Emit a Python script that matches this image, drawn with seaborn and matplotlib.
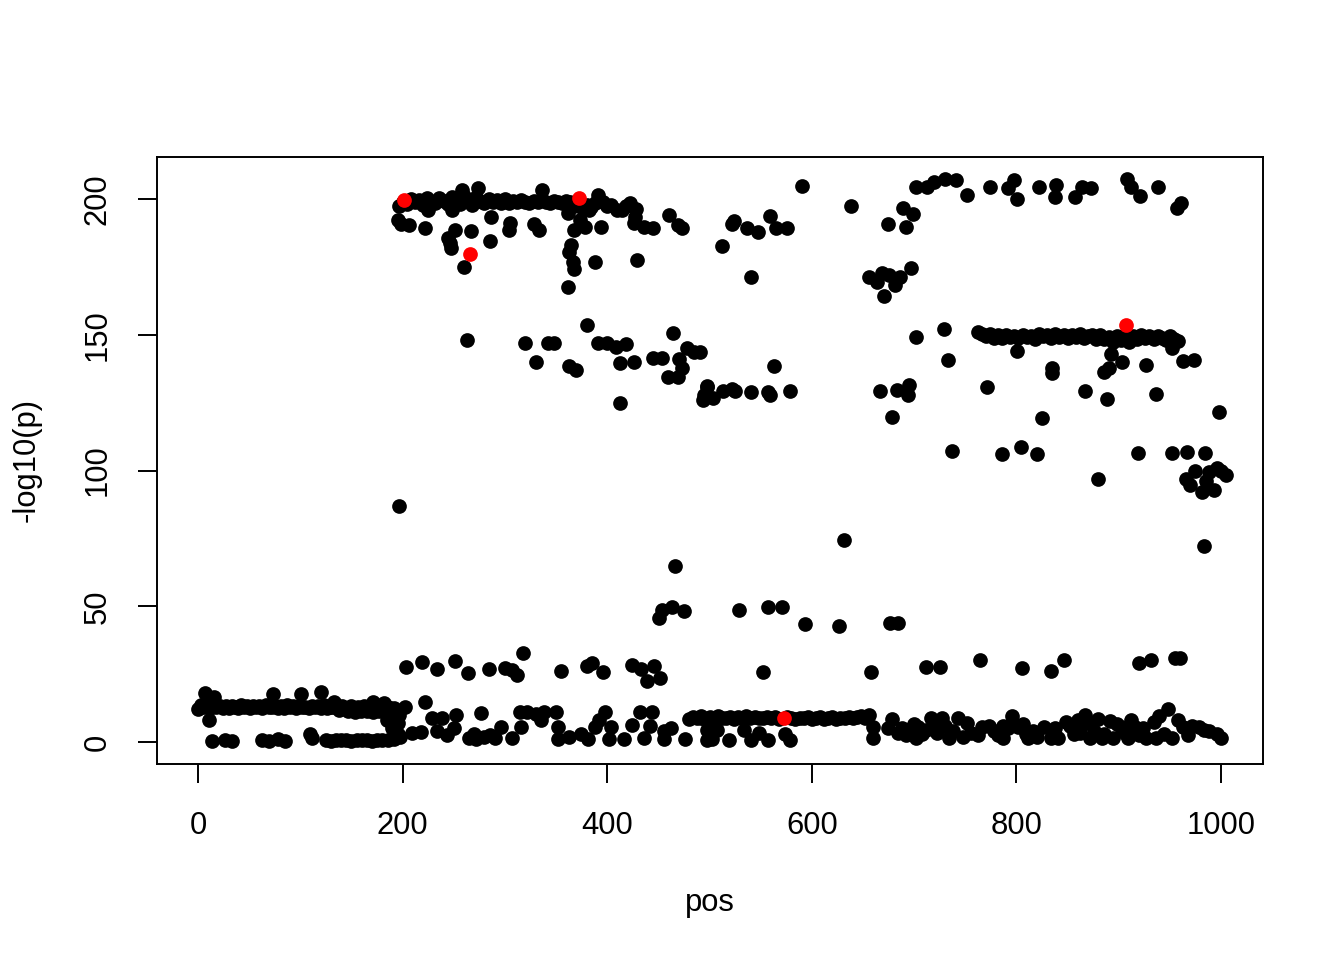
import matplotlib
matplotlib.use("Agg")
import matplotlib.pyplot as plt
import pandas as pd
import seaborn as sns


sns.set_theme(style="ticks")
plt.rcParams["font.family"] = ["Liberation Sans", "DejaVu Sans"]

# low band, left side
low_band_pos = [0, 3, 6, 9, 12, 15, 18, 21, 24, 27,
                30, 33, 36, 39, 42, 45, 48, 51, 54, 57,
                60, 63, 66, 69, 72, 75, 78, 81, 84, 87,
                90, 93, 96, 99, 102, 105, 108, 111, 114, 117,
                120, 123, 126, 129, 132, 135, 138, 141, 144, 147,
                150, 153, 156, 159, 162, 165, 168, 171, 174, 177,
                180, 183, 186, 189, 192]
low_band_p = [12.0, 13.5, 12.8, 13.2, 12.5, 13.6, 12.9, 13.1, 12.7, 13.4,
              12.6, 13.3, 13.0, 12.4, 13.5, 12.8, 13.1, 12.6, 13.4, 12.9,
              13.2, 12.5, 13.6, 12.8, 13.0, 13.3, 12.7, 13.1, 12.4, 13.5,
              12.9, 13.2, 12.6, 13.4, 12.8, 13.0, 12.5, 13.3, 12.9, 13.1,
              12.7, 13.5, 12.4, 13.0, 12.8, 13.2, 11.8, 13.4, 12.6, 11.5,
              13.1, 11.2, 12.9, 11.6, 13.3, 11.4, 12.7, 11.0, 13.2, 11.3,
              12.8, 11.1, 13.0, 11.5, 12.6]

low_left_pos = [7, 16, 73, 101, 120, 133, 171, 182, 11, 185,
                195, 195, 190, 14, 26, 33, 63, 69, 78, 85,
                109, 111, 125, 130, 135, 140, 145, 150, 155, 160,
                165, 170, 175, 180, 186, 192, 197, 196]
low_left_p = [18, 16.5, 17.7, 17.7, 18.4, 14.7, 14.7, 14.4, 8, 8,
              7, 3, 5, 0.3, 0.6, 0.3, 0.8, 0.3, 1.0, 0.3,
              3, 1.5, 0.7, 0.5, 0.8, 0.6, 0.7, 0.5, 0.8, 0.6,
              0.7, 0.5, 0.8, 0.6, 0.7, 1.0, 2, 10]

mid_low_pos = [203, 219, 234, 251, 264, 284, 300, 307, 312, 318,
               355, 380, 385, 396, 424, 433, 439, 446, 452, 202,
               222, 209, 218, 229, 238, 234, 243, 252, 250, 277,
               265, 272, 280, 290, 296, 307, 316, 315, 322, 330,
               338, 350, 335, 352, 352, 363, 374, 381, 388, 398,
               392, 402, 416, 404, 424, 432, 444, 442, 436, 455,
               462, 455, 476, 492, 503, 502, 270, 285]
mid_low_p = [27.6, 29.5, 27, 30, 25.5, 27, 27.3, 26.5, 24.7, 32.8,
             26, 28, 29, 25.8, 28.4, 27, 22.5, 28, 23.6, 13,
             14.7, 3.3, 3.7, 8.8, 8.7, 4, 2.5, 10, 5, 10.7,
             1.5, 1.2, 1.8, 1.5, 5.5, 1.5, 5.6, 11, 11, 10.5,
             11, 11, 8, 5.5, 1, 2, 3, 1, 5.5, 11,
             8, 1, 1, 5.5, 6.4, 11, 11, 6, 1.5, 4,
             5, 1, 1, 9, 9, 1, 3, 2.5]

mid_pos = [451, 454, 463, 475, 466, 529, 557, 571, 593, 627,
           676, 684, 631, 983, 196, 552, 658,
           712, 725, 764, 805, 834, 846, 920, 932, 955, 960]
mid_p = [45.7, 48.8, 49.6, 48.4, 64.8, 48.6, 49.6, 49.6, 43.5, 42.6,
         44, 44, 74.4, 72.2, 87, 25.8, 25.8,
         27.5, 27.5, 30.2, 27.3, 26.3, 30.2, 29.2, 30.2, 30.8, 31]

band9_pos = [480, 484, 488, 492, 496, 500, 504, 508, 512, 516,
             520, 524, 528, 532, 536, 540, 544, 548, 552, 556,
             560, 564, 568, 576, 580, 584, 588, 592, 596, 600,
             604, 608, 612, 616, 620, 624, 628, 632, 636, 640,
             644, 648, 652, 656]
band9_p = [8.5, 9.2, 8.8, 9.5, 8.6, 9.1, 8.9, 9.4, 8.7, 9.0,
           9.3, 8.6, 9.1, 8.8, 9.4, 8.9, 9.2, 8.7, 9.0, 9.3,
           8.8, 9.1, 8.6, 9.2, 8.9, 8.4, 9.0, 8.7, 9.2, 8.5,
           8.9, 9.1, 8.4, 8.8, 9.2, 8.6, 9.0, 8.8, 9.3, 8.7,
           9.1, 9.5, 8.9, 9.8]

low_right_pos = [498, 498, 507, 519, 534, 541, 548, 557, 574, 579,
                 660, 660, 674, 688, 696, 704, 712, 720, 702, 716,
                 727, 734, 743, 748, 762, 766, 773, 787, 787, 796,
                 802, 809, 811, 827, 834, 841, 848, 856, 867, 872,
                 880, 891, 884, 894, 902, 909, 916, 927, 934, 939,
                 936, 948, 952, 963, 972, 983, 996, 1000, 860, 876,
                 678, 684, 692, 700, 708, 722, 730, 738, 752, 756,
                 778, 782, 792, 806, 816, 820, 838, 852, 862, 870,
                 886, 898, 906, 912, 920, 924, 944, 958, 968, 978,
                 988]
low_right_p = [4.5, 0.7, 4.5, 0.7, 4.5, 0.7, 3.2, 0.7, 3.0, 0.8,
               5.5, 1.5, 5.0, 5.2, 4.8, 5.5, 4.6, 5.0, 1.5, 8.8,
               8.8, 1.5, 8.8, 2.0, 2.5, 5.5, 6.0, 6.0, 1.5, 9.5,
               5.5, 3.0, 1.5, 5.5, 1.5, 1.5, 7.5, 3.0, 10.0, 1.5,
               8.5, 7.7, 1.5, 1.5, 5.5, 1.5, 5.5, 1.5, 7.5, 9.5,
               1.5, 12.0, 1.5, 5.5, 6.0, 4.5, 3.0, 1.5, 8.0, 4.0,
               8.5, 3.5, 2.5, 6.5, 3.0, 3.5, 6.0, 4.0, 7.0, 3.5,
               4.0, 2.5, 5.0, 6.5, 4.0, 2.0, 5.0, 6.0, 3.5, 7.0,
               3.0, 6.5, 3.5, 8.0, 2.5, 5.0, 3.0, 8.0, 2.5, 5.5,
               4.0]

band200_pos = [196, 200, 204, 208, 212, 216, 220, 224, 228, 232,
               236, 240, 244, 248, 252, 256, 260, 264, 268, 272,
               276, 280, 284, 288, 292, 296, 300, 304, 308, 312,
               316, 320, 324, 328, 332, 336, 340, 344, 348, 352,
               356, 360, 364, 368, 376, 380, 384, 388, 396, 400,
               404, 414, 418, 428]
band200_p = [197.5, 199.0, 198.2, 200.1, 198.8, 199.6, 197.9, 200.3, 199.1, 198.5,
             200.4, 199.2, 198.1, 200.6, 199.5, 198.3, 201.0, 199.4, 198.0, 200.8,
             199.3, 198.6, 200.2, 198.9, 199.7, 198.4, 199.9, 198.7, 199.2, 198.8,
             199.5, 199.0, 198.6, 199.3, 198.9, 199.6, 199.1, 198.7, 199.4, 199.0,
             198.5, 199.2, 198.8, 197.5, 196.5, 198.0, 197.0, 198.5, 199.0, 197.5,
             198.0, 196.0, 197.5, 196.5]

near200_pos = [258, 274, 336, 391, 195, 198, 206, 222, 225, 248,
               286, 305, 304, 328, 333, 362, 373, 368, 378, 394,
               382, 410, 422, 427, 426, 436, 445, 460, 469, 473,
               251, 267, 244, 246, 247, 285, 260, 365, 363, 367,
               368, 362, 388, 429]
near200_p = [203.3, 204, 203.3, 201.5, 192.3, 191, 190.4, 189.3, 196, 196,
             193.4, 191.2, 188.6, 191, 188.6, 194.8, 192.3, 188.6, 189.7, 189.7,
             196, 196, 198.5, 193.4, 191.2, 189.7, 189.3, 194, 190.4, 189.3,
             188.6, 188.2, 185.6, 183.8, 182, 184.5, 175, 183, 180.5, 176.8,
             174.2, 167.6, 176.8, 177.5]

mid150_pos = [263, 380, 320, 342, 348, 330, 363, 369, 391, 400,
              409, 418, 412, 426, 445, 454, 464, 478, 485, 470,
              473, 459, 469, 412, 498, 494, 491,
              498, 495, 503, 513, 522, 525, 541, 557, 559, 579,
              667, 683, 695, 694, 563]
mid150_p = [148, 153.6, 147, 147, 147, 140, 138.5, 137, 147, 147,
            145.5, 146.6, 139.6, 140, 141.4, 141.4, 150.6, 145, 143.6, 141,
            137.8, 134.4, 134.4, 124.8, 130.8, 126, 143.6,
            131, 127.8, 126.6, 129.4, 130, 129.4, 129, 129, 127.7, 129.2,
            129.3, 129.7, 131.5, 127.8, 138.5]

top_right_pos = [590, 638, 524, 522, 537, 547, 559, 565, 576, 512,
                 541, 908, 912, 921, 938, 961, 957, 702, 713, 719,
                 730, 741, 752, 774, 792, 798, 801, 822, 839, 838,
                 857, 864, 873, 674, 689, 692, 699, 656, 664, 669,
                 675, 681, 686, 697, 671]
top_right_p = [204.8, 197.4, 192, 191, 189.3, 188, 193.7, 189.3, 189.3, 182.7,
               171.3, 207.4, 204.4, 201, 204.4, 198.5, 196.7, 204.4, 204.4, 206.3,
               207.4, 207, 201.5, 204.4, 203.9, 207, 200.2, 204.4, 205.2, 200.7,
               200.7, 204.4, 204, 190.8, 196.7, 189.7, 194.5, 171.3, 169.4, 172.7,
               172, 168.3, 171.3, 174.6, 164.3]

band150_pos = [762, 766, 770, 774, 778, 782, 786, 790, 794, 798,
               802, 806, 810, 814, 818, 822, 826, 830, 834, 838,
               842, 846, 850, 854, 858, 862, 866, 870, 874, 878,
               882, 886, 890, 894, 898, 902, 906, 910, 914, 918,
               922, 926, 930, 934, 938, 942, 946, 950, 954, 958]
band150_p = [151.0, 150.2, 149.5, 150.4, 149.0, 149.8, 148.8, 150.0, 149.3, 149.6,
             148.9, 150.1, 149.2, 149.7, 148.6, 150.2, 149.4, 149.8, 148.7, 150.3,
             149.1, 149.9, 148.8, 150.0, 149.3, 150.4, 148.9, 149.6, 150.1, 148.5,
             149.8, 148.4, 149.1, 147.2, 149.6, 148.2, 149.9, 147.5, 149.4, 148.6,
             149.8, 148.9, 149.5, 148.3, 149.7, 149.0, 148.1, 149.5, 148.6, 147.8]

right_pos = [702, 729, 733, 801, 835, 835, 892, 886, 890, 903,
             927, 952, 963, 974, 771, 867, 889, 936, 998, 678,
             825, 737, 786, 804, 820, 880, 919, 952, 967, 984,
             966, 970, 981, 993, 996, 1005, 1000, 975, 988, 985]
right_p = [149.2, 152, 140.7, 144, 137.8, 136, 143, 136.3, 137.8, 140,
           138.8, 145, 140.3, 140.7, 130.8, 129.3, 126.3, 128.2, 121.5, 119.7,
           119.3, 107.2, 106.2, 108.6, 106.2, 96.9, 106.4, 106.4, 107, 106.4,
           97, 94.5, 92, 93, 101, 98.5, 100, 100, 99.5, 96]

# highlighted hits
hit_pos = [201, 372, 266, 907, 573]
hit_p = [199.7, 200.4, 179.8, 153.6, 8.9]

all_pos = (low_band_pos + low_left_pos + mid_low_pos + mid_pos + band9_pos
           + low_right_pos + band200_pos + near200_pos + mid150_pos
           + top_right_pos + band150_pos + right_pos)
all_p = (low_band_p + low_left_p + mid_low_p + mid_p + band9_p
         + low_right_p + band200_p + near200_p + mid150_p
         + top_right_p + band150_p + right_p)
df = pd.DataFrame({"pos": all_pos, "logp": all_p})
hits = pd.DataFrame({"pos": hit_pos, "logp": hit_p})

fig = plt.figure(figsize=(13.44, 9.6), dpi=100)
ax = fig.add_axes([157 / 1344, 1 - 764 / 960, 1106 / 1344, 607 / 960])

sns.scatterplot(data=df, x="pos", y="logp", ax=ax, color="black",
                s=112, linewidth=0, legend=False)
sns.scatterplot(data=hits, x="pos", y="logp", ax=ax, color="#ff0000",
                s=112, linewidth=0, legend=False)

ax.set_xlim(-40.1, 1041)
ax.set_ylim(-8.1, 215.5)
ax.set_xticks([0, 200, 400, 600, 800, 1000])
ax.set_yticks([0, 50, 100, 150, 200])
for side in ["top", "right", "bottom", "left"]:
    ax.spines[side].set_visible(True)
    ax.spines[side].set_linewidth(1.4)
    ax.spines[side].set_color("black")
ax.tick_params(axis="both", direction="out", length=13.7, width=1.4,
               labelsize=22.3, colors="black")
ax.tick_params(axis="x", pad=20)
ax.tick_params(axis="y", pad=18)
for lab in ax.get_yticklabels():
    lab.set_rotation(90)
    lab.set_va("center")

ax.set_xlabel("pos", fontsize=22.3, color="black")
ax.set_ylabel("-log10(p)", fontsize=22.3, color="black")
ax.xaxis.set_label_coords(0.5, -0.205)
ax.yaxis.set_label_coords(-0.104, 0.5)

fig.savefig("out.png", dpi=100)
plt.close(fig)
